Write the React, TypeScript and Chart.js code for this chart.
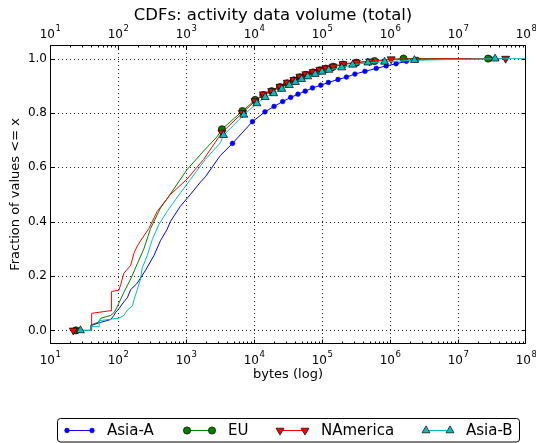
import { useEffect, useRef } from "react";
import { Chart, registerables } from "chart.js";
import { drawPoint } from "chart.js/helpers";

Chart.register(...registerables);

const FONT = "'DejaVu Sans', sans-serif";

// Axis ticks
const xMajorTicks = [1e1, 1e2, 1e3, 1e4, 1e5, 1e6, 1e7, 1e8];
const yTicks = [0, 0.2, 0.4, 0.6, 0.8, 1.0];

// Asia-A: unmarked CDF path and marked samples
const asiaAPathBytes = [40, 40, 56, 78, 87, 92, 103, 122, 137, 154, 192, 255, 337, 421, 528, 591, 828, 1160, 1625, 1923, 3190];
const asiaAPathFrac = [0, 0.018, 0.03, 0.04, 0.055, 0.066, 0.08, 0.105, 0.12, 0.15, 0.174, 0.222, 0.275, 0.33, 0.372, 0.401, 0.457, 0.5, 0.545, 0.565, 0.643];
const asiaAMarkBytes = [26, 4830, 9480, 14500, 19700, 26400, 34600, 44300, 56600, 72600, 95900, 124000, 172000, 229000, 305000, 428000, 628000, 879000, 1230000, 1740000, 2510000, 30000000];
const asiaAMarkFrac = [0, 0.688, 0.768, 0.804, 0.824, 0.842, 0.857, 0.869, 0.88, 0.892, 0.902, 0.912, 0.923, 0.932, 0.943, 0.953, 0.964, 0.973, 0.981, 0.99, 0.997, 1.0];

// EU
const euPathBytes = [40, 40, 51, 56, 78, 87, 92, 103, 122, 154, 192, 240, 301, 421, 661, 1038, 1816, 2852];
const euPathFrac = [0, 0.02, 0.03, 0.045, 0.055, 0.065, 0.075, 0.1, 0.14, 0.19, 0.245, 0.3, 0.375, 0.45, 0.52, 0.592, 0.66, 0.712];
const euMarkBytes = [24, 3380, 6760, 10400, 13700, 18200, 24100, 30800, 38600, 47300, 57900, 74100, 92900, 114000, 146000, 204000, 320000, 593000, 1580000, 27700000];
const euMarkFrac = [0, 0.74, 0.807, 0.848, 0.866, 0.88, 0.895, 0.909, 0.92, 0.931, 0.94, 0.949, 0.957, 0.963, 0.97, 0.978, 0.985, 0.991, 1.0, 1.0];

// NAmerica
const naPathBytes = [41, 41, 80, 80, 103, 110, 122, 154, 172, 192, 215, 285, 377, 591, 1038, 1816, 3011];
const naPathFrac = [0, 0.063, 0.073, 0.143, 0.148, 0.17, 0.21, 0.24, 0.285, 0.31, 0.33, 0.375, 0.438, 0.5, 0.557, 0.629, 0.71];
const naMarkBytes = [22, 3380, 6760, 10400, 13700, 18200, 24100, 30800, 38600, 47300, 57900, 74100, 92900, 114000, 146000, 204000, 320000, 501000, 1040000, 50200000];
const naMarkFrac = [0, 0.728, 0.8, 0.844, 0.869, 0.881, 0.897, 0.912, 0.922, 0.934, 0.943, 0.951, 0.959, 0.964, 0.971, 0.98, 0.986, 0.99, 0.998, 1.0];

// Asia-B
const asiaBPathBytes = [40, 40, 53, 53, 103, 122, 137, 163, 172, 192, 215, 227, 269, 319, 398, 528, 828, 1160, 1923, 3190, 200000000];
const asiaBPathFrac = [0, 0.014, 0.014, 0.036, 0.045, 0.055, 0.075, 0.09, 0.113, 0.15, 0.19, 0.23, 0.275, 0.334, 0.389, 0.438, 0.506, 0.555, 0.629, 0.69, 1.0];
const asiaBMarkBytes = [28, 3565, 7080, 11000, 14600, 19500, 25700, 33100, 40700, 50100, 61700, 79400, 100000, 126000, 195000, 282000, 473000, 832000, 2290000, 35100000];
const asiaBMarkFrac = [0, 0.718, 0.793, 0.835, 0.858, 0.872, 0.888, 0.902, 0.913, 0.924, 0.934, 0.943, 0.951, 0.958, 0.967, 0.977, 0.985, 0.988, 0.994, 0.9995];

type Marker = { pointStyle: "circle" | "triangle"; rotation: number; radius: number; edge: string; edgeWidth: number };
type Series = {
  label: string;
  color: string;
  pathX: number[];
  pathY: number[];
  markX: number[];
  markY: number[];
  marker: Marker;
  legendX: [number, number, number];
};

const SERIES: Series[] = [
  {
    label: "Asia-A", color: "#0000ff",
    pathX: asiaAPathBytes, pathY: asiaAPathFrac, markX: asiaAMarkBytes, markY: asiaAMarkFrac,
    marker: { pointStyle: "circle", rotation: 0, radius: 2.4, edge: "#0000ff", edgeWidth: 0.5 },
    legendX: [67, 92, 107],
  },
  {
    label: "EU", color: "#008000",
    pathX: euPathBytes, pathY: euPathFrac, markX: euMarkBytes, markY: euMarkFrac,
    marker: { pointStyle: "circle", rotation: 0, radius: 3.6, edge: "#000000", edgeWidth: 0.7 },
    legendX: [187, 212, 228],
  },
  {
    label: "NAmerica", color: "#ff0000",
    pathX: naPathBytes, pathY: naPathFrac, markX: naMarkBytes, markY: naMarkFrac,
    marker: { pointStyle: "triangle", rotation: 180, radius: 4.6, edge: "#000000", edgeWidth: 0.7 },
    legendX: [280, 305, 321],
  },
  {
    label: "Asia-B", color: "#00bfbf",
    pathX: asiaBPathBytes, pathY: asiaBPathFrac, markX: asiaBMarkBytes, markY: asiaBMarkFrac,
    marker: { pointStyle: "triangle", rotation: 0, radius: 4.6, edge: "#000000", edgeWidth: 0.7 },
    legendX: [426, 450, 466],
  },
];

function buildPoints(s: Series) {
  const pts = [
    ...s.pathX.map((x, i) => ({ x, y: s.pathY[i], m: false })),
    ...s.markX.map((x, i) => ({ x, y: s.markY[i], m: true })),
  ];
  return pts.sort((a, b) => a.x - b.x);
}

function line(ctx: CanvasRenderingContext2D, x1: number, y1: number, x2: number, y2: number) {
  ctx.beginPath();
  ctx.moveTo(x1, y1);
  ctx.lineTo(x2, y2);
  ctx.stroke();
}

const crisp = (v: number) => Math.round(v) + 0.5;

// "10" with a raised exponent, centred on the tick
function powerLabel(ctx: CanvasRenderingContext2D, x: number, baseline: number, exp: number) {
  ctx.font = `12px ${FONT}`;
  const wBase = ctx.measureText("10").width;
  ctx.font = `8.5px ${FONT}`;
  const wExp = ctx.measureText(String(exp)).width;
  const left = x - (wBase + wExp) / 2;
  ctx.textAlign = "left";
  ctx.textBaseline = "alphabetic";
  ctx.font = `12px ${FONT}`;
  ctx.fillText("10", left, baseline);
  ctx.font = `8.5px ${FONT}`;
  ctx.fillText(String(exp), left + wBase + 0.5, baseline - 7);
}

// Grid, frame, inward ticks, tick labels, titles and the legend box
const decorations = {
  id: "decorations",
  beforeDatasetsDraw(chart: any) {
    const { ctx, chartArea: a, scales } = chart;
    ctx.save();
    ctx.strokeStyle = "rgba(0,0,0,0.85)";
    ctx.lineWidth = 1;
    ctx.setLineDash([1, 3]);
    for (const v of xMajorTicks.slice(1, -1)) {
      const px = crisp(scales.x.getPixelForValue(v));
      line(ctx, px, a.top, px, a.bottom);
    }
    for (const v of yTicks) {
      const py = crisp(scales.y.getPixelForValue(v));
      line(ctx, a.left, py, a.right, py);
    }
    ctx.restore();
  },
  afterDatasetsDraw(chart: any) {
    const { ctx, chartArea: a, scales } = chart;
    ctx.save();
    ctx.strokeStyle = "#000";
    ctx.lineWidth = 1;
    const L = crisp(a.left), R = crisp(a.right - 1), T = crisp(a.top), B = crisp(a.bottom - 1);
    ctx.strokeRect(L, T, R - L, B - T);
    // x ticks (major and log minor), bottom and top, pointing inward
    for (let d = 1; d < 8; d++) {
      for (let k = 1; k <= 9; k++) {
        const v = k * Math.pow(10, d);
        const px = crisp(scales.x.getPixelForValue(v));
        const len = k === 1 ? 4 : 2;
        line(ctx, px, B, px, B - len);
        line(ctx, px, T, px, T + len);
      }
    }
    for (const v of yTicks) {
      const py = crisp(scales.y.getPixelForValue(v));
      line(ctx, L, py, L + 4, py);
      line(ctx, R, py, R - 4, py);
    }
    ctx.restore();
  },
  afterDraw(chart: any) {
    const { ctx, chartArea: a, scales } = chart;
    ctx.save();
    ctx.fillStyle = "#000";

    for (const v of xMajorTicks) {
      const px = scales.x.getPixelForValue(v);
      const exp = Math.round(Math.log10(v));
      powerLabel(ctx, px, 363.5, exp);
      powerLabel(ctx, px, 37.5, exp);
    }

    ctx.textBaseline = "middle";
    ctx.textAlign = "center";
    ctx.font = `16.5px ${FONT}`;
    ctx.fillText("CDFs: activity data volume (total)", 273, 16);
    ctx.font = `13px ${FONT}`;
    ctx.fillText("bytes (log)", (a.left + a.right) / 2, 375);
    ctx.save();
    ctx.translate(16, (a.top + a.bottom) / 2);
    ctx.rotate(-Math.PI / 2);
    ctx.fillText("Fraction of values <= x", 0, 0);
    ctx.restore();

    // legend
    ctx.strokeStyle = "#000";
    ctx.lineWidth = 1;
    ctx.beginPath();
    (ctx as any).roundRect(57.5, 418.5, 462, 23.5, 3);
    ctx.fillStyle = "#fff";
    ctx.fill();
    ctx.stroke();
    const ly = 430.5;
    ctx.font = `15px ${FONT}`;
    ctx.textAlign = "left";
    for (const s of SERIES) {
      const [x1, x2, tx] = s.legendX;
      ctx.strokeStyle = s.color;
      ctx.lineWidth = 1;
      line(ctx, x1, ly, x2, ly);
      for (const px of [x1, x2]) {
        ctx.fillStyle = s.color;
        ctx.strokeStyle = s.marker.edge;
        ctx.lineWidth = s.marker.edgeWidth;
        drawPoint(ctx, {
          pointStyle: s.marker.pointStyle,
          rotation: s.marker.rotation,
          radius: s.marker.radius,
          borderWidth: s.marker.edgeWidth,
        } as any, px, ly);
      }
      ctx.fillStyle = "#000";
      ctx.fillText(s.label, tx, ly + 1);
    }
    ctx.restore();
  },
};

export default function App() {
  const ref = useRef<HTMLCanvasElement>(null);

  useEffect(() => {
    if (!ref.current) return;
    const datasets = SERIES.map((s, i) => {
      const pts = buildPoints(s);
      return {
        label: s.label,
        data: pts.map((p) => ({ x: p.x, y: p.y })),
        borderColor: s.color,
        backgroundColor: s.color,
        borderWidth: 1,
        tension: 0,
        fill: false,
        pointStyle: s.marker.pointStyle,
        rotation: s.marker.rotation,
        pointRadius: pts.map((p) => (p.m ? s.marker.radius : 0)),
        pointBackgroundColor: s.color,
        pointBorderColor: s.marker.edge,
        pointBorderWidth: s.marker.edgeWidth,
        order: SERIES.length - i,
      };
    });

    const tickFont = { family: FONT, size: 12 };
    const hiddenLogAxis = (position: string, height: number) => ({
      type: "logarithmic",
      axis: "x",
      position,
      min: xMajorTicks[0],
      max: xMajorTicks[xMajorTicks.length - 1],
      grid: { display: false, drawTicks: false },
      border: { display: false },
      ticks: { display: false },
      afterFit: (s: any) => { s.height = height; s.paddingLeft = 0; s.paddingRight = 0; },
    });

    const chart = new Chart(ref.current, {
      type: "line",
      data: { datasets },
      options: {
        responsive: false,
        animation: false,
        events: [],
        layout: { padding: { left: 0, right: 10, top: 0, bottom: 0 } },
        plugins: {
          legend: { display: false },
          tooltip: { enabled: false },
          title: { display: false },
        },
        scales: {
          x: hiddenLogAxis("bottom", 99),
          x2: hiddenLogAxis("top", 45),
          y: {
            type: "linear",
            min: -0.05,
            max: 1.05,
            grid: { display: false, drawTicks: false },
            border: { display: false },
            ticks: { color: "#000", font: tickFont, padding: 3, callback: (v: any) => Number(v).toFixed(1) },
            afterBuildTicks: (s: any) => { s.ticks = yTicks.map((value) => ({ value })); },
            afterFit: (s: any) => { s.width = 50; s.paddingTop = 0; s.paddingBottom = 0; },
          },
        },
      } as any,
      plugins: [decorations as any],
    });
    return () => chart.destroy();
  }, []);

  return (
    <canvas
      ref={ref}
      width={536}
      height={443}
      style={{ position: "absolute", left: 0, top: 0, display: "block" }}
    />
  );
}
